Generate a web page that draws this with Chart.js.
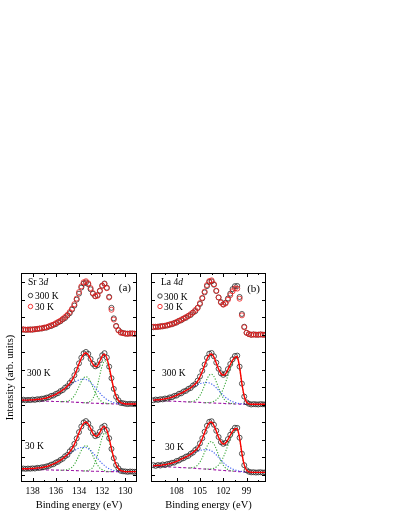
<!DOCTYPE html>
<html>
<head>
<meta charset="utf-8">
<script src="https://cdn.jsdelivr.net/npm/chart.js@4.4.1/dist/chart.umd.min.js"></script>
<style>
  html, body { margin: 0; padding: 0; background: #fff; }
  #wrap { position: relative; width: 399px; height: 516px; }
  canvas { position: absolute; left: 0; top: 0; }
</style>
</head>
<body>
<div id="wrap">
  <canvas id="ca" width="399" height="516"></canvas>
  <canvas id="cb" width="399" height="516"></canvas>
</div>
<script>
// ---------------- Panel (a): Sr 3d ----------------
const energyA = [139.0,138.8,138.6,138.4,138.2,138.0,137.8,137.6,137.4,137.2,137.0,136.8,136.6,136.4,136.2,136.0,135.8,135.6,135.4,135.2,135.0,134.8,134.6,134.4,134.2,134.0,133.8,133.6,133.4,133.2,133.0,132.8,132.6,132.4,132.2,132.0,131.8,131.6,131.4,131.2,131.0,130.8,130.6,130.4,130.2,130.0,129.8,129.6,129.4,129.2,129.0];
const xMajorA = [130,132,134,136,138];
const xMinorA = [131,133,135,137];

const srTop300 = [8.30,8.31,8.29,8.30,8.32,8.30,8.33,8.34,8.36,8.37,8.41,8.42,8.48,8.51,8.58,8.62,8.72,8.78,8.89,8.97,9.11,9.24,9.45,9.68,10.02,10.36,10.71,10.94,11.00,10.90,10.61,10.36,10.21,10.28,10.53,10.82,10.94,10.70,10.18,9.55,8.95,8.52,8.28,8.16,8.11,8.08,8.07,8.09,8.08,8.07,8.08];
const srTop30 = [8.30,8.32,8.30,8.31,8.29,8.32,8.32,8.35,8.37,8.38,8.42,8.44,8.49,8.55,8.59,8.67,8.74,8.82,8.92,9.03,9.15,9.31,9.50,9.76,10.08,10.45,10.78,11.01,11.07,10.95,10.68,10.39,10.22,10.24,10.51,10.80,10.91,10.67,10.14,9.44,8.88,8.49,8.26,8.13,8.10,8.08,8.07,8.08,8.09,8.07,8.08];

const srMidData = [4.27,4.30,4.27,4.29,4.28,4.31,4.29,4.33,4.32,4.36,4.37,4.42,4.44,4.52,4.54,4.63,4.68,4.79,4.85,4.99,5.07,5.26,5.41,5.70,6.01,6.38,6.70,6.95,7.03,6.92,6.63,6.35,6.21,6.27,6.55,6.84,6.96,6.71,6.19,5.53,4.92,4.47,4.27,4.12,4.10,4.07,4.05,4.07,4.06,4.05,4.07];
const srMidFit = [4.28,4.28,4.28,4.28,4.29,4.29,4.30,4.32,4.33,4.35,4.38,4.40,4.45,4.50,4.55,4.61,4.69,4.76,4.86,4.96,5.08,5.23,5.42,5.67,5.99,6.35,6.67,6.90,6.97,6.86,6.60,6.33,6.20,6.25,6.51,6.79,6.90,6.67,6.17,5.52,4.93,4.50,4.26,4.13,4.09,4.06,4.06,4.06,4.06,4.06,4.06];
const srMidBg = [4.25,4.25,4.24,4.24,4.24,4.23,4.23,4.23,4.22,4.22,4.22,4.21,4.21,4.21,4.20,4.20,4.20,4.19,4.19,4.18,4.18,4.17,4.17,4.16,4.15,4.15,4.14,4.13,4.12,4.12,4.11,4.10,4.10,4.09,4.09,4.08,4.08,4.07,4.07,4.07,4.06,4.06,4.06,4.06,4.06,4.06,4.06,4.06,4.06,4.06,4.06];
const srMidG52 = [null,null,null,null,null,null,null,null,null,null,null,null,null,null,null,null,null,null,null,null,null,null,null,null,null,null,null,4.13,4.13,4.16,4.22,4.37,4.68,5.14,5.72,6.24,6.52,6.41,5.99,5.41,4.86,4.46,4.23,4.12,4.08,4.06,null,null,null,null,null];
const srMidG32 = [null,null,null,null,null,null,null,null,null,null,null,null,null,null,null,null,null,4.19,4.20,4.20,4.22,4.27,4.37,4.53,4.77,5.06,5.34,5.55,5.62,5.54,5.31,5.01,4.72,4.46,4.29,4.18,4.12,4.09,4.08,4.07,null,null,null,null,null,null,null,null,null,null,null];
const srMidBroad = [4.28,4.28,4.28,4.28,4.29,4.29,4.30,4.32,4.33,4.35,4.38,4.40,4.45,4.50,4.55,4.61,4.69,4.76,4.85,4.94,5.04,5.13,5.22,5.30,5.37,5.44,5.47,5.48,5.46,5.40,5.29,5.15,5.00,4.83,4.68,4.53,4.42,4.31,4.24,4.18,4.13,4.10,4.09,4.07,4.07,4.06,null,null,null,null,null];

const srBotData = [0.35,0.37,0.35,0.37,0.36,0.38,0.37,0.41,0.40,0.44,0.45,0.49,0.52,0.59,0.62,0.71,0.76,0.86,0.93,1.07,1.15,1.35,1.49,1.78,2.09,2.45,2.77,3.00,3.08,2.95,2.68,2.40,2.22,2.27,2.47,2.73,2.81,2.57,2.10,1.49,0.96,0.57,0.38,0.24,0.21,0.20,0.18,0.20,0.19,0.18,0.20];
const srBotFit = [0.36,0.36,0.36,0.36,0.37,0.37,0.38,0.40,0.41,0.43,0.46,0.48,0.53,0.58,0.63,0.69,0.77,0.84,0.94,1.05,1.16,1.32,1.50,1.75,2.07,2.41,2.73,2.95,3.03,2.91,2.66,2.38,2.23,2.25,2.44,2.69,2.77,2.55,2.09,1.50,0.98,0.59,0.37,0.25,0.22,0.19,0.19,0.19,0.19,0.19,0.19];
const srBotBg = [0.33,0.33,0.32,0.32,0.32,0.31,0.31,0.31,0.30,0.30,0.30,0.29,0.29,0.29,0.28,0.28,0.28,0.27,0.27,0.27,0.26,0.26,0.26,0.25,0.25,0.24,0.24,0.23,0.23,0.22,0.22,0.21,0.21,0.21,0.20,0.20,0.20,0.19,0.19,0.19,0.19,0.19,0.19,0.19,0.19,0.19,0.19,0.19,0.19,0.19,0.19];
const srBotG52 = [null,null,null,null,null,null,null,null,null,null,null,null,null,null,null,null,null,null,null,null,null,null,null,null,null,null,null,0.23,0.24,0.26,0.32,0.45,0.73,1.15,1.66,2.14,2.39,2.29,1.91,1.39,0.91,0.55,0.34,0.24,0.21,0.19,null,null,null,null,null];
const srBotG32 = [null,null,null,null,null,null,null,null,null,null,null,null,null,null,null,null,null,0.27,0.28,0.29,0.30,0.36,0.45,0.61,0.85,1.12,1.40,1.60,1.68,1.59,1.38,1.09,0.81,0.57,0.39,0.30,0.24,0.21,0.20,0.19,null,null,null,null,null,null,null,null,null,null,null];
const srBotBroad = [0.36,0.36,0.36,0.36,0.37,0.37,0.38,0.40,0.41,0.43,0.46,0.48,0.53,0.58,0.63,0.69,0.77,0.84,0.93,1.03,1.12,1.22,1.31,1.39,1.47,1.53,1.57,1.58,1.57,1.50,1.40,1.26,1.11,0.95,0.79,0.65,0.54,0.43,0.36,0.30,0.26,0.23,0.22,0.20,0.20,0.19,null,null,null,null,null];

// ---------------- Panel (b): La 4d ----------------
const energyB = [111.0,110.7,110.4,110.1,109.8,109.5,109.2,108.9,108.6,108.3,108.0,107.7,107.4,107.1,106.8,106.5,106.2,105.9,105.6,105.3,105.0,104.7,104.4,104.1,103.8,103.5,103.2,102.9,102.6,102.3,102.0,101.7,101.4,101.1,100.8,100.5,100.2,99.9,99.6,99.3,99.0,98.7,98.4,98.1,97.8,97.5,97.2,96.9,96.6];
const xMajorB = [99,102,105,108];
const xMinorB = [97.5,100.5,103.5,106.5,109.5];

const laTop300 = [8.44,8.47,8.46,8.50,8.49,8.53,8.54,8.60,8.61,8.69,8.71,8.81,8.84,8.94,8.98,9.09,9.14,9.28,9.36,9.55,9.77,10.09,10.43,10.79,11.03,11.06,10.87,10.51,10.14,9.88,9.75,9.84,10.08,10.36,10.62,10.79,10.80,10.17,9.20,8.47,8.13,8.05,8.01,8.03,8.02,8.01,8.03,8.02,8.01];
const laTop30 = [8.47,8.45,8.48,8.47,8.52,8.52,8.57,8.58,8.64,8.66,8.75,8.79,8.88,8.93,9.02,9.08,9.19,9.28,9.42,9.54,9.82,10.12,10.48,10.85,11.08,11.12,10.90,10.53,10.15,9.85,9.73,9.80,10.01,10.27,10.50,10.66,10.65,10.07,9.12,8.44,8.12,8.05,8.01,8.03,8.01,8.02,8.03,8.01,8.02];

const laMidData = [4.27,4.31,4.29,4.33,4.32,4.37,4.36,4.43,4.44,4.52,4.54,4.64,4.67,4.77,4.81,4.92,4.97,5.11,5.19,5.39,5.63,5.95,6.31,6.69,6.93,6.97,6.78,6.42,6.07,5.81,5.72,5.80,6.05,6.34,6.61,6.80,6.82,6.19,5.22,4.48,4.15,4.07,4.03,4.05,4.04,4.03,4.05,4.04,4.03];
const laMidFit = [4.28,4.29,4.30,4.31,4.33,4.35,4.38,4.41,4.45,4.50,4.55,4.62,4.68,4.75,4.82,4.90,4.98,5.09,5.20,5.36,5.61,5.91,6.27,6.63,6.86,6.90,6.73,6.40,6.05,5.80,5.70,5.78,6.02,6.30,6.56,6.73,6.75,6.15,5.21,4.50,4.16,4.06,4.04,4.04,4.04,4.04,4.04,4.04,4.04];
const laMidBg = [4.25,4.25,4.24,4.24,4.23,4.23,4.22,4.22,4.21,4.21,4.20,4.20,4.19,4.19,4.18,4.18,4.17,4.17,4.16,4.15,4.15,4.14,4.13,4.13,4.12,4.11,4.11,4.10,4.10,4.09,4.09,4.08,4.08,4.07,4.07,4.06,4.06,4.05,4.05,4.05,4.04,4.04,4.04,4.04,4.04,4.04,4.04,4.04,4.04];
const laMidBroad = [4.28,4.29,4.30,4.31,4.33,4.35,4.38,4.41,4.45,4.50,4.55,4.62,4.68,4.75,4.82,4.90,4.97,5.05,5.11,5.16,5.22,5.25,5.27,5.28,5.26,5.20,5.11,4.98,4.84,4.70,4.56,4.43,4.34,4.25,4.19,4.14,4.11,4.08,4.07,4.06,4.04,null,null,null,null,null,null,null,null];
const laMidG32 = [null,null,null,null,null,null,null,null,null,null,null,null,null,null,null,4.18,4.18,4.21,4.25,4.35,4.54,4.80,5.13,5.47,5.70,5.76,5.63,5.33,4.98,4.65,4.40,4.23,4.15,4.10,4.08,4.06,null,null,null,null,null,null,null,null,null,null,null,null,null];
const laMidG52 = [null,null,null,null,null,null,null,null,null,null,null,null,null,null,null,null,null,null,null,null,null,null,4.13,4.14,4.14,4.16,4.21,4.29,4.43,4.63,4.92,5.28,5.69,6.09,6.43,6.65,6.70,6.12,5.19,4.49,4.16,4.06,4.04,null,null,null,null,null,null];

const laBotData = [0.56,0.52,0.57,0.54,0.60,0.57,0.63,0.64,0.70,0.71,0.80,0.83,0.92,0.96,1.05,1.09,1.21,1.28,1.43,1.53,1.81,2.10,2.47,2.81,3.04,3.07,2.87,2.53,2.17,1.88,1.78,1.84,2.05,2.30,2.53,2.70,2.69,2.13,1.22,0.56,0.27,0.19,0.15,0.16,0.14,0.15,0.16,0.14,0.15];
const laBotFit = [0.53,0.54,0.55,0.55,0.58,0.59,0.62,0.65,0.68,0.72,0.78,0.84,0.90,0.97,1.03,1.10,1.19,1.29,1.40,1.54,1.78,2.07,2.42,2.76,2.98,3.02,2.83,2.51,2.15,1.89,1.77,1.83,2.02,2.27,2.49,2.64,2.64,2.10,1.23,0.58,0.28,0.18,0.16,0.15,0.15,0.15,0.15,0.15,0.15];
const laBotBg = [0.50,0.50,0.49,0.48,0.48,0.47,0.46,0.46,0.45,0.44,0.44,0.43,0.42,0.42,0.41,0.40,0.40,0.39,0.38,0.37,0.36,0.35,0.34,0.33,0.32,0.31,0.30,0.29,0.28,0.27,0.26,0.25,0.24,0.23,0.22,0.21,0.20,0.19,0.18,0.17,0.17,0.16,0.16,0.15,0.15,0.15,0.15,0.15,0.15];
const laBotBroad = [0.53,0.54,0.55,0.55,0.58,0.59,0.62,0.65,0.68,0.72,0.78,0.84,0.90,0.97,1.03,1.10,1.18,1.25,1.31,1.35,1.40,1.43,1.45,1.45,1.43,1.37,1.27,1.15,1.00,0.86,0.72,0.59,0.49,0.41,0.34,0.29,0.25,0.22,0.20,0.18,0.17,null,null,null,null,null,null,null,null];
const laBotG32 = [null,null,null,null,null,null,null,null,null,null,null,null,null,null,null,0.40,0.41,0.43,0.47,0.56,0.74,0.99,1.31,1.63,1.85,1.91,1.77,1.48,1.13,0.81,0.56,0.40,0.31,0.26,0.23,0.21,null,null,null,null,null,null,null,null,null,null,null,null,null];
const laBotG52 = [null,null,null,null,null,null,null,null,null,null,null,null,null,null,null,null,null,null,null,null,null,null,0.34,0.34,0.34,0.36,0.39,0.46,0.58,0.76,1.01,1.34,1.70,2.06,2.36,2.56,2.59,2.07,1.21,0.57,0.28,0.18,0.16,null,null,null,null,null,null];

// intensity axis (offset units), tick marks
const yTicks = [0,1,2,3,4,5,6,7,8,9,10,11];

// ---------------- styling helpers ----------------
const SERIF = "'Liberation Serif', 'Times New Roman', serif";
const C_BLACK = '#2a2a2a', C_RED = '#ee1c1c', C_FIT = '#ff0000';
const C_GREEN = '#3aa83a', C_BLUE = '#3a5cf0', C_PURPLE = '#a01aa8';

function pts(xs, ys) { return xs.map((x, i) => ({x: x, y: ys[i]})); }
function circles(xs, ys, color, order) {
  return { data: pts(xs, ys), showLine: false, pointRadius: 2.5, pointHoverRadius: 2.5,
    pointBorderWidth: 0.8, pointBorderColor: color, pointBackgroundColor: 'rgba(0,0,0,0)', order: order };
}
function line(xs, ys, color, width, dash, order) {
  return { data: pts(xs, ys), showLine: true, pointRadius: 0, borderColor: color, borderWidth: width,
    borderDash: dash, fill: false, tension: 0.35, spanGaps: false, order: order };
}

const framePlugin = {
  id: 'frame',
  afterDatasetsDraw(chart, args, o) {
    const {ctx, chartArea: a, scales} = chart;
    const x = scales.x, y = scales.y;
    ctx.save();
    ctx.strokeStyle = '#000';
    ctx.lineWidth = 1;
    ctx.strokeRect(a.left + 0.5, a.top + 0.5, a.right - a.left - 1, a.bottom - a.top - 1);
    const seg = (x1, y1, x2, y2) => { ctx.beginPath(); ctx.moveTo(x1, y1); ctx.lineTo(x2, y2); ctx.stroke(); };
    const xt = (vals, len) => vals.forEach(v => {
      const p = Math.round(x.getPixelForValue(v)) + 0.5;
      seg(p, a.bottom, p, a.bottom - len); seg(p, a.top, p, a.top + len);
    });
    xt(o.major, 4); xt(o.minor, 2);
    o.yt.forEach(v => {
      const p = Math.round(y.getPixelForValue(v)) + 0.5;
      seg(a.left, p, a.left + 4, p); seg(a.right, p, a.right - 4, p);
    });
    ctx.restore();
  }
};

const notesPlugin = {
  id: 'notes',
  afterDraw(chart, args, o) {
    const ctx = chart.ctx;
    ctx.save();
    ctx.fillStyle = '#000';
    ctx.textBaseline = 'alphabetic';
    // element label, e.g. "Sr 3" + italic "d"
    ctx.font = '9.5px ' + SERIF;
    ctx.textAlign = 'left';
    ctx.fillText(o.elem, o.ex, o.ey);
    const w = ctx.measureText(o.elem).width;
    ctx.font = 'italic 9.5px ' + SERIF;
    ctx.fillText('d', o.ex + w, o.ey);
    // legend
    ctx.font = '9.5px ' + SERIF;
    o.legend.forEach(L => {
      ctx.beginPath(); ctx.arc(L.cx, L.cy, 2.2, 0, Math.PI * 2);
      ctx.strokeStyle = L.color; ctx.lineWidth = 0.9; ctx.stroke();
      ctx.fillText(L.text, L.tx, L.ty);
    });
    // other labels
    o.labels.forEach(L => {
      ctx.font = L.size + 'px ' + SERIF;
      ctx.textAlign = L.align || 'left';
      ctx.fillText(L.text, L.x, L.y);
    });
    ctx.restore();
  }
};

function axisX(min, max, major) {
  return {
    type: 'linear', min: min, max: max, reverse: true,
    afterBuildTicks: s => { s.ticks = major.map(v => ({value: v})); },
    afterFit: s => { s.height = 34; },
    grid: {display: false, drawTicks: false}, border: {display: false},
    ticks: {font: {family: SERIF, size: 9.5}, color: '#000', padding: 4, maxRotation: 0, autoSkip: false},
    title: {display: true, text: 'Binding energy (eV)', font: {family: SERIF, size: 10.5}, color: '#000', padding: {top: 0, bottom: 4}}
  };
}

function makeChart(id, cfg) {
  return new Chart(document.getElementById(id), {
    type: 'scatter',
    data: {datasets: cfg.datasets},
    options: {
      responsive: false, animation: false, devicePixelRatio: 1,
      events: [],
      layout: {padding: cfg.padding},
      plugins: {legend: {display: false}, tooltip: {enabled: false},
        frame: {major: cfg.major, minor: cfg.minor, yt: yTicks}, notes: cfg.notes},
      scales: {x: axisX(cfg.xmin, cfg.xmax, cfg.major), y: cfg.y}
    },
    plugins: [framePlugin, notesPlugin]
  });
}

function panelSets(E, top300, top30, midData, midFit, midBg, midBroad, midG32, midG52,
                   botData, botFit, botBg, botBroad, botG32, botG52) {
  return [
    circles(E, top30, C_RED, 1),
    circles(E, top300, C_BLACK, 2),
    line(E, midFit, C_FIT, 1.4, [], 0),
    circles(E, midData, C_BLACK, 2),
    line(E, midBg, C_PURPLE, 1.1, [3, 2], 4),
    line(E, midBroad, C_BLUE, 1.1, [1.2, 1.6], 3),
    line(E, midG32, C_GREEN, 1.1, [1.2, 1.6], 3),
    line(E, midG52, C_GREEN, 1.1, [1.2, 1.6], 3),
    line(E, botFit, C_FIT, 1.4, [], 0),
    circles(E, botData, C_BLACK, 2),
    line(E, botBg, C_PURPLE, 1.1, [3, 2], 4),
    line(E, botBroad, C_BLUE, 1.1, [1.2, 1.6], 3),
    line(E, botG32, C_GREEN, 1.1, [1.2, 1.6], 3),
    line(E, botG52, C_GREEN, 1.1, [1.2, 1.6], 3)
  ];
}

makeChart('ca', {
  datasets: panelSets(energyA, srTop300, srTop30, srMidData, srMidFit, srMidBg, srMidBroad, srMidG32, srMidG52,
                      srBotData, srBotFit, srBotBg, srBotBroad, srBotG32, srBotG52),
  padding: {left: 0, top: 273, right: 262, bottom: 0},
  xmin: 129, xmax: 139, major: xMajorA, minor: xMinorA,
  y: {type: 'linear', min: -0.4, max: 11.54,
      afterFit: s => { s.width = 21; },
      ticks: {display: false}, grid: {display: false, drawTicks: false}, border: {display: false},
      title: {display: true, text: 'Intensity (arb. units)', font: {family: SERIF, size: 10.5}, color: '#000', padding: {top: 4, bottom: 0}}},
  notes: {
    elem: 'Sr 3', ex: 28, ey: 285,
    legend: [
      {cx: 30.5, cy: 295.5, color: C_BLACK, text: '300 K', tx: 35, ty: 299},
      {cx: 30.5, cy: 306.5, color: C_RED, text: '30 K', tx: 35, ty: 310}
    ],
    labels: [
      {text: '(a)', x: 131, y: 291, size: 11, align: 'right'},
      {text: '300 K', x: 27, y: 375.5, size: 9.5},
      {text: '30 K', x: 25, y: 448.5, size: 9.5}
    ]
  }
});

makeChart('cb', {
  datasets: panelSets(energyB, laTop300, laTop30, laMidData, laMidFit, laMidBg, laMidBroad, laMidG32, laMidG52,
                      laBotData, laBotFit, laBotBg, laBotBroad, laBotG32, laBotG52),
  padding: {left: 151, top: 273, right: 133, bottom: 0},
  xmin: 96.5, xmax: 111.3, major: xMajorB, minor: xMinorB,
  y: {type: 'linear', min: -0.4, max: 11.54, display: false},
  notes: {
    elem: 'La 4', ex: 161, ey: 285,
    legend: [
      {cx: 160, cy: 296, color: C_BLACK, text: '300 K', tx: 164, ty: 299.5},
      {cx: 160, cy: 306.5, color: C_RED, text: '30 K', tx: 164, ty: 310}
    ],
    labels: [
      {text: '(b)', x: 260, y: 292, size: 11, align: 'right'},
      {text: '300 K', x: 162, y: 376, size: 9.5},
      {text: '30 K', x: 165, y: 449.5, size: 9.5}
    ]
  }
});
</script>
</body>
</html>
